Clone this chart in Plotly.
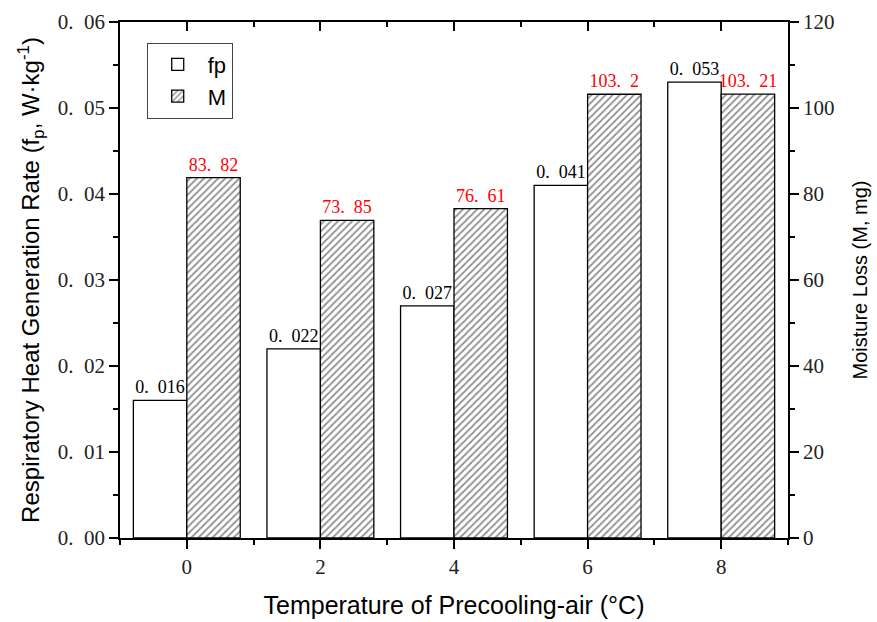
import plotly.graph_objects as go

temps = [0, 2, 4, 6, 8]
fp = [0.016, 0.022, 0.027, 0.041, 0.053]
moisture = [83.82, 73.85, 76.61, 103.2, 103.21]
fp_labels = ["0.\u2002016", "0.\u2002022", "0.\u2002027", "0.\u2002041", "0.\u2002053"]
m_labels = ["83.\u200282", "73.\u200285", "76.\u200261", "103.\u20022", "103.\u200221"]
y1_ticks = [0, 0.01, 0.02, 0.03, 0.04, 0.05, 0.06]
y1_ticktext = ["0.\u200200", "0.\u200201", "0.\u200202", "0.\u200203", "0.\u200204", "0.\u200205", "0.\u200206"]
y2_ticks = [0, 20, 40, 60, 80, 100, 120]

serif = "Liberation Serif"
sans = "Liberation Sans"

fig = go.Figure()
fig.add_trace(go.Bar(
    x=temps, y=fp, name="fp", offset=-0.8, width=0.8,
    marker=dict(color="white", line=dict(color="black", width=1.3)),
    text=fp_labels, textposition="outside", cliponaxis=False, constraintext="none",
    textfont=dict(family=serif, size=18, color="black"),
    yaxis="y",
))
fig.add_trace(go.Bar(
    x=temps, y=moisture, name="M", offset=0, width=0.8,
    marker=dict(color="white", line=dict(color="black", width=1.3),
                pattern=dict(shape="/", fgcolor="#222222", bgcolor="white", size=5, solidity=0.35)),
    text=m_labels, textposition="outside", cliponaxis=False, constraintext="none",
    textfont=dict(family=serif, size=18, color="red"),
    yaxis="y2",
))
# invisible trace to anchor the top (mirrored) axis with inward ticks
fig.add_trace(go.Scatter(x=temps, y=[None] * len(temps), xaxis="x2", yaxis="y",
                         showlegend=False, hoverinfo="skip"))

axis_common = dict(showline=True, linecolor="black", linewidth=1.5, showgrid=False,
                   zeroline=False, ticks="outside", ticklen=9, tickwidth=1.5, tickcolor="black",
                   automargin=False,
                   tickfont=dict(family=serif, size=21, color="#222"))

fig.update_layout(
    width=877, height=622,
    margin=dict(l=120, r=89, t=22, b=84),
    plot_bgcolor="white", paper_bgcolor="white",
    showlegend=True,
    legend=dict(x=0.04, y=0.96, xanchor="left", yanchor="top",
                bordercolor="#444", borderwidth=1, bgcolor="white",
                font=dict(family=sans, size=22, color="black"),
                itemwidth=50, tracegroupgap=0),
    xaxis=dict(range=[-1, 9], tickvals=temps, **axis_common,
               minor=dict(dtick=1, ticks="outside", ticklen=5, tickwidth=1.5, tickcolor="black"),
               title=dict(text="Temperature of Precooling-air (°C)",
                          font=dict(family=sans, size=25, color="black"), standoff=19)),
    xaxis2=dict(range=[-1, 9], overlaying="x", side="top", showline=True, linecolor="black",
                linewidth=1.5, tickvals=temps, ticks="inside", ticklen=9, tickwidth=1.5,
                tickcolor="black", showticklabels=False, showgrid=False, zeroline=False,
                automargin=False,
                minor=dict(dtick=1, ticks="inside", ticklen=5, tickwidth=1.5, tickcolor="black")),
    yaxis=dict(range=[0, 0.06], tickvals=y1_ticks, ticktext=y1_ticktext, **axis_common,
               minor=dict(dtick=0.005, ticks="outside", ticklen=5, tickwidth=1.5, tickcolor="black"),
               title=dict(text="Respiratory Heat Generation Rate (f<sub>p</sub>, W·kg<sup>-1</sup>)",
                          font=dict(family=sans, size=24, color="black"), standoff=11)),
    yaxis2=dict(range=[0, 120], tickvals=y2_ticks, overlaying="y", side="right", **axis_common,
                minor=dict(dtick=10, ticks="outside", ticklen=5, tickwidth=1.5, tickcolor="black"),
                title=dict(text="Moisture Loss (M, mg)",
                           font=dict(family=sans, size=20, color="black"), standoff=20)),
)

fig.write_html("out.html")
